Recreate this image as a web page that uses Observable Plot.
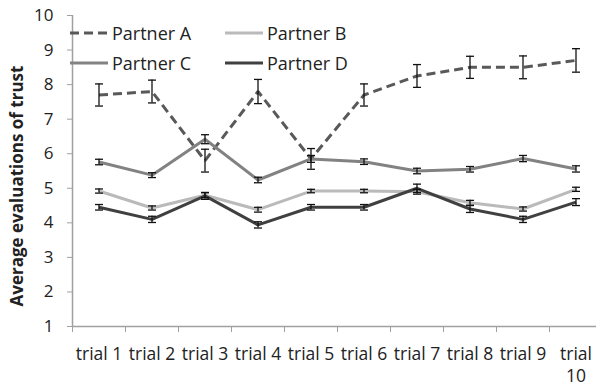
<!DOCTYPE html>
<html>
<head>
<meta charset="utf-8">
<script src="https://cdn.jsdelivr.net/npm/d3@7"></script>
<script src="https://cdn.jsdelivr.net/npm/@observablehq/plot@0.6"></script>
<style>
  html, body { margin: 0; padding: 0; background: #fff; }
  #wrap { position: relative; width: 596px; height: 386px; overflow: hidden; font-family: "Open Sans", sans-serif; }
  #legend { position: absolute; left: 70px; top: 20px; display: grid; grid-template-columns: 155px 140px; row-gap: 4px; font-size: 18px; color: #222; }
  #legend .item { display: flex; align-items: center; height: 26px; }
  #legend svg { margin-right: 4px; }
</style>
</head>
<body>
<div id="wrap"></div>
<script>
const trials = ["trial 1","trial 2","trial 3","trial 4","trial 5","trial 6","trial 7","trial 8","trial 9","trial 10"];
const partners = ["Partner A","Partner B","Partner C","Partner D"];
const meanA = [7.7, 7.8, 5.8, 7.8, 5.85, 7.7, 8.25, 8.5, 8.5, 8.7];
const errA  = [0.32, 0.33, 0.33, 0.35, 0.3, 0.32, 0.33, 0.32, 0.33, 0.34];
const meanB = [4.92, 4.43, 4.8, 4.38, 4.92, 4.92, 4.9, 4.58, 4.4, 4.97];
const errB  = [0.06, 0.06, 0.07, 0.07, 0.05, 0.05, 0.07, 0.07, 0.06, 0.06];
const meanC = [5.76, 5.38, 6.42, 5.24, 5.85, 5.77, 5.5, 5.55, 5.86, 5.56];
const errC  = [0.08, 0.07, 0.13, 0.08, 0.1, 0.08, 0.08, 0.08, 0.09, 0.09];
const meanD = [4.45, 4.1, 4.78, 3.94, 4.45, 4.45, 5.0, 4.4, 4.1, 4.6];
const errD  = [0.08, 0.09, 0.1, 0.09, 0.08, 0.08, 0.12, 0.1, 0.09, 0.1];
const yTicks = [1,2,3,4,5,6,7,8,9,10];
const yTitle = "Average evaluations of trust";

const styles = {
  "Partner A": {color: "#595959", dash: "9,5"},
  "Partner B": {color: "#bababa", dash: null},
  "Partner C": {color: "#828282", dash: null},
  "Partner D": {color: "#404040", dash: null}
};

const means = [meanA, meanB, meanC, meanD];
const errs = [errA, errB, errC, errD];
const rows = [];
partners.forEach((p, k) => {
  trials.forEach((t, i) => {
    rows.push({partner: p, trial: t, pos: i + 0.5, value: means[k][i], err: errs[k][i]});
  });
});

const capSymbol = {
  draw(context, size) {
    const r = Math.sqrt(size / Math.PI);
    context.moveTo(-r, 0);
    context.lineTo(r, 0);
  }
};

const lineMarks = partners.map(p => Plot.line(rows.filter(d => d.partner === p), {
  x: "pos", y: "value",
  stroke: styles[p].color, strokeWidth: 3,
  strokeDasharray: styles[p].dash || undefined,
  strokeLinejoin: "miter", strokeLinecap: "butt"
}));

const chart = Plot.plot({
  width: 596,
  height: 386,
  marginTop: 15,
  marginBottom: 60,
  marginLeft: 72,
  marginRight: -6,
  style: {fontFamily: "Open Sans, sans-serif", color: "#222", background: "white", overflow: "visible"},
  x: {domain: [0, trials.length]},
  y: {domain: [1, 10]},
  marks: [
    Plot.ruleX([0], {stroke: "#a0a0a0", strokeWidth: 1.5}),
    Plot.ruleY([1], {stroke: "#a0a0a0", strokeWidth: 1.5}),
    Plot.axisY({ticks: yTicks, tickSize: 5, tickPadding: 14, fontSize: 17, stroke: "#a0a0a0", fill: "#222", label: null}),
    Plot.axisX({ticks: d3.range(0, trials.length + 1), tickFormat: () => "", tickSize: 6, stroke: "#a0a0a0", label: null}),
    Plot.axisX({ticks: trials.map((t, i) => i + 0.5), tickFormat: d => trials[Math.floor(d)], tickSize: 0, tickPadding: 18, fontSize: 17.5, lineWidth: 3.05, lineHeight: 1.25, fill: "#222", label: null}),
    Plot.text([yTitle], {frameAnchor: "left", textAnchor: "middle", lineAnchor: "middle", rotate: -90, dx: -55, dy: 15, fontSize: 17, fontWeight: "bold", fill: "#222"}),
    ...lineMarks,
    Plot.ruleX(rows, {x: "pos", y1: d => d.value - d.err, y2: d => d.value + d.err, stroke: "#111", strokeWidth: 1.3}),
    Plot.dot(rows, {x: "pos", y: d => d.value - d.err, symbol: capSymbol, r: 4, stroke: "#111", strokeWidth: 1.3}),
    Plot.dot(rows, {x: "pos", y: d => d.value + d.err, symbol: capSymbol, r: 4, stroke: "#111", strokeWidth: 1.3})
  ]
});

const wrap = document.getElementById("wrap");
wrap.appendChild(chart);

const legend = document.createElement("div");
legend.id = "legend";
const order = ["Partner A", "Partner B", "Partner C", "Partner D"];
order.forEach(p => {
  const item = document.createElement("div");
  item.className = "item";
  const s = styles[p];
  const w = 38;
  item.innerHTML = `<svg width="${w}" height="6"><line x1="0" y1="3" x2="${w}" y2="3" stroke="${s.color}" stroke-width="3" ${s.dash ? `stroke-dasharray="${s.dash}"` : ""}/></svg><span>${p}</span>`;
  legend.appendChild(item);
});
wrap.appendChild(legend);
</script>
</body>
</html>
